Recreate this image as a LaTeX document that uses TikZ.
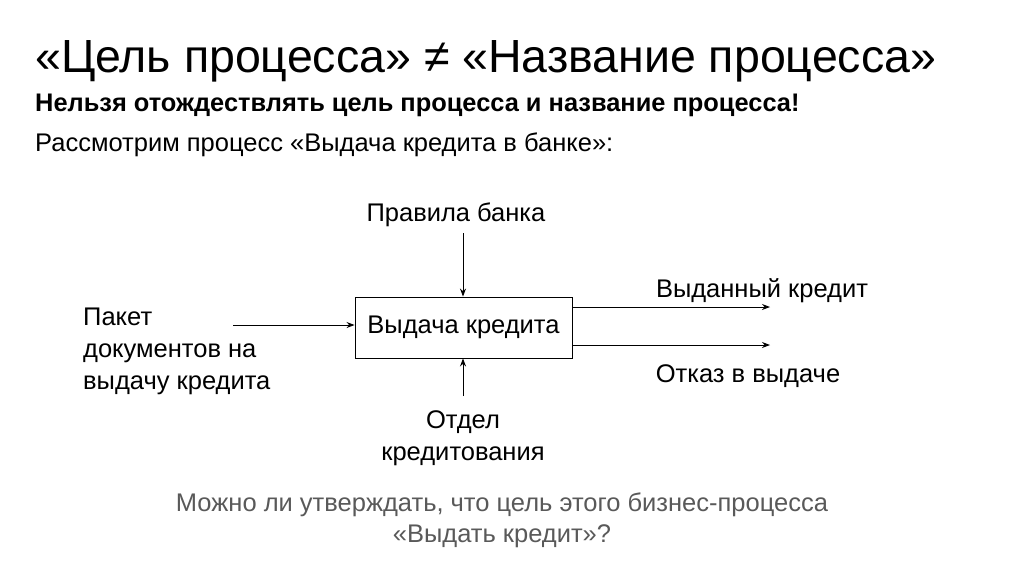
\documentclass[tikz,border=0pt]{standalone}
\usepackage{fontspec}
\setmainfont{Liberation Sans}
\usetikzlibrary{arrows.meta}
\begin{document}
\begin{tikzpicture}[x=1pt,y=-1pt,
  lbl/.style={inner sep=0pt,font=\fontsize{25.5}{30}\selectfont},
  arr/.style={-{Stealth[length=8pt,width=6pt]},line width=0.9pt}]
\useasboundingbox (0,0) rectangle (1024,574);
\node[anchor=base west,inner sep=0pt,font=\fontsize{46.5}{50}\selectfont] (t) at (35,72) {«Цель процесса» ≠ «Название процесса»};
\node[anchor=base west,inner sep=0pt,font=\fontsize{25.4}{30}\selectfont\bfseries] (s) at (35,111) {Нельзя отождествлять цель процесса и название процесса!};
\node[anchor=base west,lbl] (r) at (35,151) {Рассмотрим процесс «Выдача кредита в банке»:};
\node[draw,line width=0.9pt,minimum width=217pt,minimum height=61pt,font=\fontsize{25.5}{30}\selectfont] (box) at (463.5,327.5) {Выдача кредита};
\node[lbl] (top) at (456,215) {Правила банка};
\coordinate (tc) at (463,233);
\draw[arr] (tc) -- (tc |- box.north);
\node[lbl,align=center,font=\fontsize{25.5}{32}\selectfont] (bot) at (463,438) {Отдел\\кредитования};
\coordinate (bc) at (463,396);
\draw[arr] (bc) -- (bc |- box.south);
\node[lbl,align=left,anchor=north west,font=\fontsize{25.5}{32}\selectfont] (left) at (83,308) {Пакет\\документов на\\выдачу кредита};
\coordinate (lc) at (233,325);
\draw[arr] (lc) -- (lc -| box.west);
\coordinate (r1) at (770,307);
\coordinate (r2) at (770,345);
\draw[arr] (r1 -| box.east) -- (r1);
\draw[arr] (r2 -| box.east) -- (r2);
\node[lbl] (o1) at (762,291) {Выданный кредит};
\node[lbl] (o2) at (748,376) {Отказ в выдаче};
\node[lbl,text=black!65,align=center,font=\fontsize{25.5}{31}\selectfont] (q) at (502,520) {Можно ли утверждать, что цель этого бизнес-процесса\\«Выдать кредит»?};
\end{tikzpicture}
\end{document}
